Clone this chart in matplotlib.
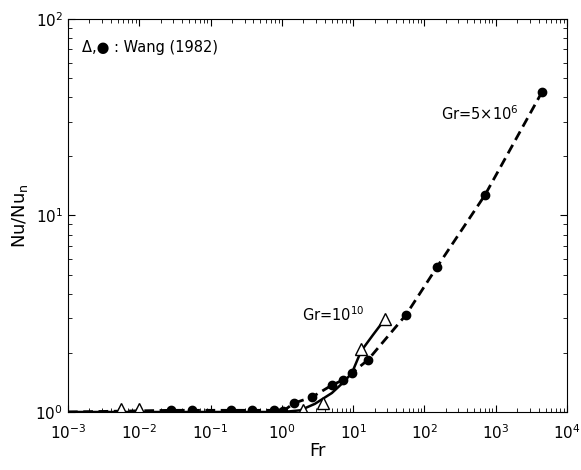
import numpy as np
import matplotlib
matplotlib.use("Agg")
import matplotlib.pyplot as plt
from matplotlib.ticker import NullFormatter, LogLocator

# Wang (1982) data, Gr = 5x10^6 (filled circles)
fr_dot = [0.028, 0.055, 0.193, 0.38, 0.775, 1.04, 1.48, 2.64, 5.04, 7.2, 9.6, 16.1, 55, 150, 705, 4450]
nu_dot = [1.02, 1.02, 1.02, 1.02, 1.02, 1.01, 1.11, 1.19, 1.37, 1.455, 1.58, 1.84, 3.12, 5.47, 12.7, 42.5]

# Wang (1982) data, Gr = 10^10 (open triangles)
fr_tri = [0.0055, 0.0099, 1.98, 3.77, 12.9, 27.9]
nu_tri = [1.035, 1.035, 1.02, 1.11, 2.09, 2.97]

# solid curve, Gr = 10^10
fr_solid = [0.001, 0.5, 1.04, 1.8, 2.9, 5.04, 7.2, 9.6, 12.9, 19, 27.9]
nu_solid = [1.0, 1.0, 1.0, 1.02, 1.1, 1.25, 1.41, 1.58, 2.04, 2.47, 2.97]

# dashed curve, Gr = 5x10^6
fr_dash = [0.001] + fr_dot
nu_dash = [1.0] + nu_dot

x_ticks = [1e-3, 1e-2, 1e-1, 1e0, 1e1, 1e2, 1e3, 1e4]
x_labels = ['10$^{-3}$', '10$^{-2}$', '10$^{-1}$', '10$^{0}$', '10$^{1}$', '10$^{2}$', '10$^{3}$', '10$^{4}$']
y_ticks = [1, 10, 100]
y_labels = ['10$^{0}$', '10$^{1}$', '10$^{2}$']

fig = plt.figure(figsize=(5.81, 4.70), dpi=100)
ax = fig.add_axes([0.117, 0.1234, 0.859, 0.8362])

ax.plot(fr_solid, nu_solid, color='black', lw=1.8)
ax.plot(fr_dash, nu_dash, color='black', lw=2.0, ls=(0, (3.5, 2)))
ax.plot(fr_dot, nu_dot, 'o', color='black', ms=6)
ax.plot(fr_tri, nu_tri, '^', mfc='white', mec='black', ms=8, mew=1.0)

ax.set_xscale('log')
ax.set_yscale('log')
ax.set_xticks(x_ticks)
ax.set_xticklabels(x_labels)
ax.set_yticks(y_ticks)
ax.set_yticklabels(y_labels)
ax.xaxis.set_minor_locator(LogLocator(base=10, subs=np.arange(2, 10), numticks=20))
ax.yaxis.set_minor_locator(LogLocator(base=10, subs=np.arange(2, 10), numticks=20))
ax.xaxis.set_minor_formatter(NullFormatter())
ax.yaxis.set_minor_formatter(NullFormatter())
ax.set_xlim(1e-3, 1e4)
ax.set_ylim(1, 100)

ax.tick_params(which='both', direction='in', top=True, right=True, labelsize=11)
ax.tick_params(which='major', length=5)
ax.tick_params(which='minor', length=3)
ax.tick_params(axis='x', pad=8)

ax.set_xlabel('Fr', fontsize=13, labelpad=0)
ax.set_ylabel(r'Nu/Nu$_{\rm n}$', fontsize=13, labelpad=4)

ax.text(0.00158, 68, '\u0394,\u25cf : Wang (1982)', fontsize=10.5)
ax.text(170, 30.5, r'Gr=5$\times$10$^6$', fontsize=10.5)
ax.text(1.9, 2.9, r'Gr=10$^{10}$', fontsize=10.5)

fig.savefig('out.png', dpi=100)
